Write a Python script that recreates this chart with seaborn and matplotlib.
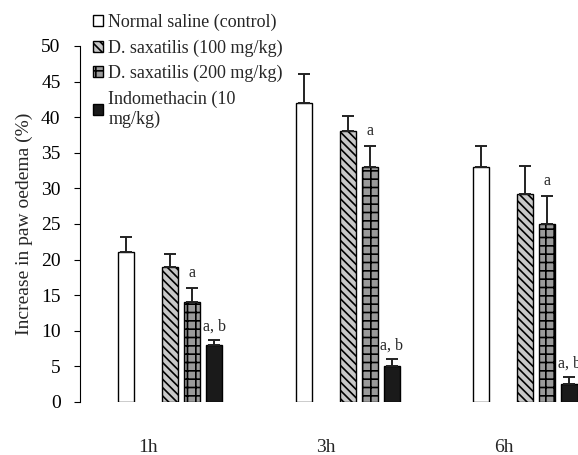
import matplotlib
matplotlib.use("Agg")
import matplotlib.pyplot as plt
import seaborn as sns
import pandas as pd
import numpy as np
from matplotlib.patches import Patch

times = ["1h", "3h", "6h"]
groups = ["Normal saline (control)", "D. saxatilis (100 mg/kg)",
          "D. saxatilis (200 mg/kg)", "Indomethacin (10\nmg/kg)"]
saline = [21, 42, 33]
dsax100 = [19, 38, 29.2]
dsax200 = [14, 33, 25]
indo = [8, 5, 2.5]
err_saline = [2.2, 4.0, 3.0]
err_dsax100 = [1.8, 2.2, 4.0]
err_dsax200 = [2.0, 3.0, 4.0]
err_indo = [0.7, 1.0, 1.0]
labels_dsax200 = ["a", "a", "a"]
labels_indo = ["a, b", "a, b", "a, b"]

sns.set_theme(style="white")
plt.rcParams["font.family"] = ["Liberation Serif", "DejaVu Serif"]
plt.rcParams["hatch.linewidth"] = 1.2

rows = []
for g, vals in zip(groups, [saline, dsax100, dsax200, indo]):
    for t, v in zip(times, vals):
        rows.append({"time": t, "group": g, "value": v})
df = pd.DataFrame(rows)
# empty hue slots keep the spacing used in the original figure
hue_order = ["_e1", "_e2", groups[0], "_e3", groups[1], groups[2], groups[3]]

fig = plt.figure(figsize=(5.78, 4.55), dpi=100)
ax = fig.add_axes([80/578, 1-402/455, 1-80/578, (402-46)/455])

sns.barplot(data=df, x="time", y="value", hue="group", hue_order=hue_order,
            order=times, width=0.868, gap=0.27, errorbar=None, ax=ax,
            legend=False, edgecolor="black", linewidth=1.0)

styles = {
    groups[0]: dict(facecolor="white", hatch=None),
    groups[1]: dict(facecolor="#c8c8c8", hatch="\\\\\\\\"),
    groups[2]: dict(facecolor="#9a9a9a", hatch="++"),
    groups[3]: dict(facecolor="#1a1a1a", hatch=None),
}
errs = {groups[0]: err_saline, groups[1]: err_dsax100,
        groups[2]: err_dsax200, groups[3]: err_indo}

bars = [p for p in ax.patches if np.isfinite(p.get_height()) and p.get_height() > 0]
bars = sorted(bars, key=lambda p: p.get_x())
for i, p in enumerate(bars):
    gi = i % 4
    ti = i // 4
    g = groups[gi]
    st = styles[g]
    p.set_facecolor(st["facecolor"])
    p.set_edgecolor("black")
    if st["hatch"]:
        p.set_hatch(st["hatch"])
    cx = p.get_x() + p.get_width() / 2
    h = p.get_height()
    e = errs[g][ti]
    ax.errorbar([cx], [h], yerr=[[0], [e]], fmt="none", ecolor="#222222",
                elinewidth=1.4, capsize=4, capthick=1.4)
    if gi == 2:
        ax.annotate(labels_dsax200[ti], (cx, h + e), xytext=(0, 5),
                    textcoords="offset points", ha="center", va="bottom",
                    fontsize=11.5)
    if gi == 3:
        ax.annotate(labels_indo[ti], (cx, h + e), xytext=(0, 4),
                    textcoords="offset points", ha="center", va="bottom",
                    fontsize=11.5)

ax.set_ylim(0, 50)
ax.set_xlim(-0.383, 2.42)
ax.set_yticks(range(0, 51, 5))
ax.tick_params(axis="y", left=True, length=4, width=0.8, pad=10, labelsize=14,
               direction="out", colors="black")
ax.tick_params(axis="x", bottom=False, pad=21, labelsize=14)
ax.set_xlabel("")
ax.set_ylabel("Increase in paw oedema (%)", fontsize=14, labelpad=6)
for s in ["top", "right", "bottom"]:
    ax.spines[s].set_visible(False)
ax.spines["left"].set_color("black")
ax.spines["left"].set_linewidth(0.8)

handles = [Patch(facecolor=styles[g]["facecolor"], edgecolor="black",
                 hatch=styles[g]["hatch"], linewidth=1.0) for g in groups]
fig.legend(handles, groups, loc="upper left", bbox_to_anchor=(84/578, 1-5/455),
           frameon=False, fontsize=13, handlelength=0.55, handleheight=0.55,
           handletextpad=0.3, labelspacing=0.45, borderpad=0)

fig.savefig("out.png", dpi=100)
